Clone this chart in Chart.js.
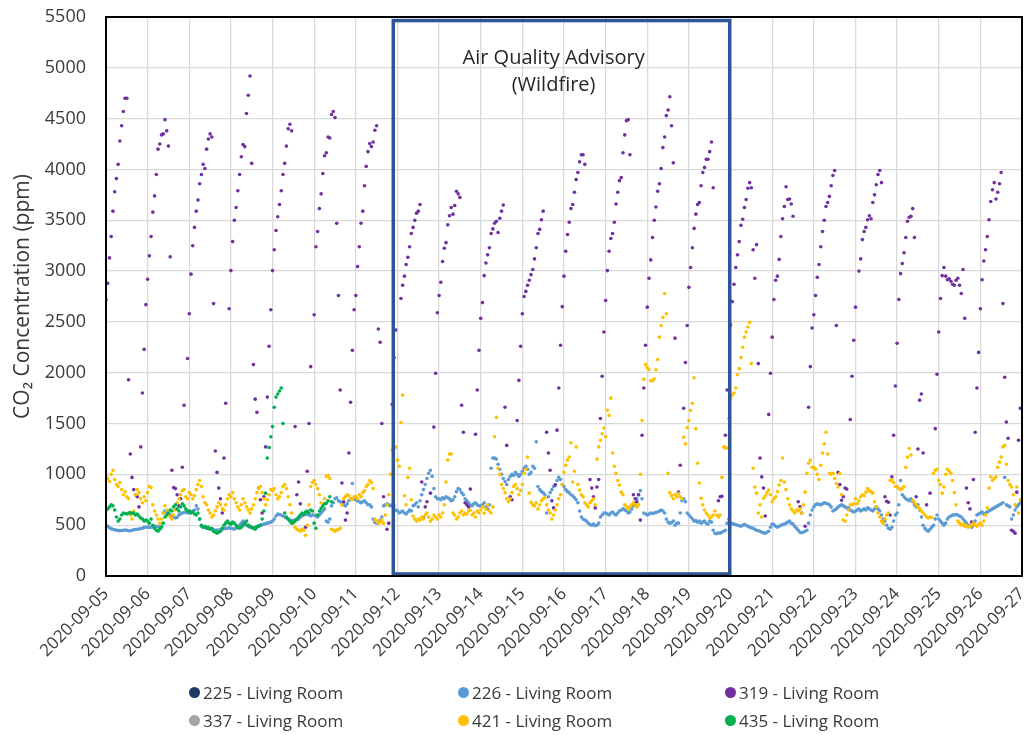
<!DOCTYPE html>
<html>
<head>
<meta charset="utf-8">
<script src="https://cdn.jsdelivr.net/npm/chart.js@4.4.1/dist/chart.umd.min.js"></script>
<style>
html, body { margin: 0; padding: 0; background: #fff; }
#wrap { position: relative; width: 1029px; height: 735px; }
#legend { position: absolute; left: 0; top: 0; width: 1029px; height: 735px; pointer-events: none;
	font-family: "Open Sans", sans-serif; font-size: 17px; color: #3a3a3a; }
.item { position: absolute; display: flex; align-items: center; height: 22px; white-space: nowrap; }
.dot { width: 11px; height: 11px; border-radius: 50%; margin-right: 3px; }
</style>
</head>
<body>
<div id="wrap">
	<canvas id="co2Chart" width="1029" height="735"></canvas>
	<div id="legend"></div>
</div>
<script>
// 날짜 눈금 (x = 2020-09-05 부터의 일 수)
const dateLabels = ['2020-09-05', '2020-09-06', '2020-09-07', '2020-09-08', '2020-09-09', '2020-09-10',
	'2020-09-11', '2020-09-12', '2020-09-13', '2020-09-14', '2020-09-15', '2020-09-16', '2020-09-17',
	'2020-09-18', '2020-09-19', '2020-09-20', '2020-09-21', '2020-09-22', '2020-09-23', '2020-09-24',
	'2020-09-25', '2020-09-26', '2020-09-27'];

// 시간별 측정값 (ppm), 한 줄 = 하루 24시간
const room225 = [];
const room337 = [];

const room226 = [
	495,490,475,465,460,455,450,450,445,448,450,452,450,445,445,450,455,458,460,462,465,470,478,480,
	482,478,480,485,488,490,485,482,490,620,640,630,610,600,590,580,570,575,600,610,620,625,630,620,
	625,630,640,650,690,660,560,490,485,480,478,470,465,460,455,450,452,450,455,460,465,468,470,475,
	470,465,462,470,480,500,520,540,520,500,490,480,475,470,480,490,495,500,505,510,515,520,525,530,
	540,560,590,610,605,600,590,580,570,560,550,540,545,550,555,560,580,590,600,605,610,600,590,600,
	600,590,580,600,620,640,660,540,530,560,690,720,760,770,740,730,720,700,690,710,740,760,910,760,
	750,740,730,720,730,740,720,700,700,680,560,530,520,530,550,580,690,700,710,700,690,700,690,650,
	640,620,630,640,620,610,630,650,640,690,700,720,680,740,800,850,900,960,1010,1040,980,860,780,760,
	760,750,770,760,780,770,760,740,750,780,830,860,850,820,800,760,740,720,700,690,710,720,700,690,
	690,700,720,680,660,700,1060,1160,1160,1150,1100,1050,1000,960,930,900,950,980,1000,990,1020,1000,980,1000,
	1030,1060,1080,1050,1000,1020,1080,1060,1320,880,850,830,820,800,620,780,820,850,880,900,940,970,950,900,
	880,850,830,820,800,790,770,750,720,640,580,560,550,540,520,505,500,510,495,500,520,580,600,620,
	620,610,600,620,630,610,600,620,640,650,660,650,640,620,630,660,690,720,760,800,840,760,620,610,
	600,610,620,615,620,625,630,640,650,640,620,560,530,520,525,540,500,520,520,620,740,760,730,620,
	600,580,560,540,545,530,540,520,530,540,520,510,540,530,450,420,415,425,420,430,440,450,520,560,
	520,515,510,505,500,495,490,500,505,500,490,480,475,470,460,450,445,440,430,425,420,430,440,480,
	510,505,490,480,490,500,505,510,520,530,540,520,510,490,470,450,430,425,430,440,450,520,600,650,
	680,700,710,705,700,710,720,715,710,700,680,640,650,660,680,690,700,690,680,670,670,650,640,630,
	640,650,660,640,650,660,650,670,660,650,640,660,680,660,640,600,560,540,500,470,460,480,540,600,
	620,700,940,800,780,760,750,740,760,730,700,680,700,650,580,500,470,450,440,460,480,500,560,600,
	560,540,520,500,520,560,580,590,600,600,605,600,590,580,560,540,520,500,490,480,500,540,600,610,
	620,630,610,620,630,640,650,660,670,680,690,700,710,720,970,700,690,680,560,600,650,680,700,720
];

const room319 = [
	2720,2880,3130,3340,3590,3780,3910,4050,4280,4430,4570,4700,4700,1930,1200,970,850,800,780,680,1270,1800,2230,2670,
	2920,3150,3340,3580,3740,3950,4200,4250,4340,4350,4490,4380,4230,3140,1040,870,860,800,690,760,1070,1680,null,2140,
	2580,2970,3250,3430,3590,3700,3860,3950,4050,4010,4200,4300,4350,4320,2680,1230,1020,865,760,620,1160,1700,null,2630,
	3005,3290,3500,3625,3790,3950,4125,4245,4225,4550,4730,4920,4060,2080,1740,1610,865,750,620,780,1270,1760,2260,2620,
	3005,3210,3400,3535,3655,3790,3950,4060,4230,4400,4445,4380,null,1470,800,925,710,null,null,480,1030,1500,2060,null,
	2570,3240,3390,3615,3760,3960,4135,4165,4320,4310,4540,4570,4510,3470,2760,1830,915,730,550,620,1210,1710,2220,2620,
	2760,3045,3240,3470,3590,3840,4030,4175,4255,4225,4270,4385,4430,2430,2300,1500,780,null,460,520,null,1690,2150,2420,
	null,null,2730,2860,2950,3065,3135,3240,3370,3430,3500,3570,3590,3655,925,570,680,730,null,815,null,1465,1995,2590,
	2760,2890,3095,3225,3280,3455,3545,3625,3560,3645,3785,3760,3725,1680,1415,720,700,680,855,null,null,1395,1830,2220,
	2535,2690,2955,3080,3160,3230,3370,3415,3470,3490,3380,3520,3590,3650,1660,1285,null,780,750,null,null,1530,1925,2260,
	2580,2750,2800,2860,2910,2965,3015,3120,3230,3370,3410,3505,3590,null,1415,1210,1040,740,670,895,1435,1850,2270,2650,
	2950,3195,3360,3480,3615,3655,3775,3900,3970,4075,4145,4145,4050,null,null,950,865,780,670,875,950,1550,1965,2400,
	2710,3005,3195,3320,3370,3480,3660,3775,3890,3920,4165,4340,4480,4490,4145,null,800,760,730,800,550,1385,1850,2270,
	2645,2930,3110,3330,3500,3630,3785,3860,4010,4215,4320,4530,4585,4715,4430,4065,2340,null,825,1090,null,1650,2100,2465,
	2840,3035,3230,3420,3560,3655,3675,3840,3970,4020,4100,4100,4175,4270,3820,null,null,740,780,785,null,1385,1830,null,
	2470,2700,2870,3035,3160,3290,3450,3510,3625,3705,3815,3870,3820,3210,2930,3260,2090,1160,975,865,590,null,1590,1995,
	2350,2720,2910,2950,3115,3340,3515,3635,3830,3705,3710,3660,3540,null,null,730,680,620,null,490,null,1660,2060,2440,
	2570,2760,2940,3065,3240,3390,3500,3635,3675,3735,3840,3940,3990,2465,1020,900,745,780,865,855,null,1540,1965,2320,
	2645,null,3000,3120,3310,3390,3430,3505,3545,3515,3675,3750,3850,3950,3990,3870,null,780,735,725,600,975,1385,1870,
	2290,2720,2975,3075,3180,3330,3490,3530,3540,3615,3330,780,1250,1730,1790,1210,null,700,null,815,null,null,1450,1985,
	2400,2730,2955,3035,2950,2915,2925,2900,2870,2860,2910,2930,2860,2780,3015,2535,865,720,660,530,950,1415,1850,2200,
	2630,2915,3100,3210,3340,3505,3685,3800,3870,3710,3775,3860,3970,2680,1955,1515,1355,null,450,440,420,825,1335,1650
];

const room421 = [
	990,960,930,1000,1040,950,900,880,920,850,800,830,780,760,600,560,640,800,850,820,760,720,780,740,
	820,880,870,700,640,600,560,520,560,620,690,650,600,580,560,600,650,720,760,800,840,850,780,760,
	820,800,760,790,850,900,940,880,780,720,700,650,620,580,600,640,680,720,700,660,650,700,760,800,
	780,820,760,720,680,650,700,760,720,680,650,620,660,700,760,820,860,880,820,760,700,750,800,850,
	840,860,800,760,780,820,880,900,860,780,700,620,520,480,460,450,440,460,450,400,500,700,880,920,
	940,900,860,800,720,680,760,980,990,960,460,450,440,450,460,470,700,760,780,800,790,760,750,780,
	780,760,800,780,820,840,880,900,940,920,860,560,540,520,530,550,520,600,700,800,1000,1240,1250,1270,
	1140,1080,1510,1780,790,700,970,1060,750,590,560,540,560,550,580,560,600,620,580,540,560,600,580,560,
	600,580,620,700,925,1140,1200,1200,620,600,560,580,620,640,600,620,610,640,650,600,620,580,640,620,
	650,680,620,660,700,640,620,680,1370,1560,1060,1000,900,860,820,760,730,760,820,880,900,860,800,840,
	900,1010,1050,1170,815,725,700,690,720,660,700,740,760,770,700,650,620,560,600,650,700,760,800,900,
	1020,1090,1140,1170,1310,925,1030,1270,900,845,800,780,720,700,680,720,740,760,700,1150,1270,1335,1400,1455,
	1370,1630,1580,1750,1210,1080,1010,940,895,825,800,700,680,660,680,700,720,700,680,700,1000,1530,1935,2080,
	2050,2030,1920,1920,1940,2030,2130,2350,2465,2545,2780,2580,1010,820,790,760,800,780,810,780,760,1365,1300,1460,
	1530,1630,1700,1950,1450,1110,915,765,700,650,620,600,570,580,600,640,600,580,600,970,1270,1260,1260,1550,
	1750,1780,1800,1850,1980,2040,2150,2250,2350,2400,2450,2495,2090,1060,875,815,620,700,580,765,790,820,845,800,
	730,760,780,830,895,940,1160,925,850,760,700,660,640,620,650,640,660,620,700,825,1010,1110,1140,1070,
	1070,1050,1000,950,1090,1210,1300,1415,1200,1010,1000,1010,960,910,875,1010,800,550,540,600,650,700,700,710,
	760,710,740,780,800,790,825,860,840,830,815,730,680,620,580,540,520,560,600,620,940,950,920,880,
	880,860,850,860,880,1070,1170,1255,1190,745,720,700,680,660,640,620,600,580,570,580,575,1010,1040,1050,
	940,900,815,875,1000,1050,1030,1010,940,820,700,540,520,500,510,490,500,480,490,500,520,500,490,510,
	520,500,540,600,670,865,975,940,960,975,1070,1120,1170,1270,1285,1100,940,900,875,800,700,875,620,750
];

const room435 = [
	650,660,680,700,690,650,580,540,560,600,620,615,610,620,625,615,620,600,610,590,570,560,540,550,
	540,520,560,500,470,450,440,460,480,520,580,600,620,650,640,680,700,660,640,680,710,690,660,640,
	640,620,630,610,600,620,560,500,480,490,470,480,460,470,440,430,420,430,440,470,500,520,540,520,
	510,530,520,500,480,470,480,500,520,540,500,490,480,470,460,480,490,500,560,640,815,1160,1265,1370,
	1470,1660,1760,1790,1820,1850,1500,620,580,560,540,520,530,540,560,580,600,620,610,630,640,620,650,640,
	520,470,600,640,665,690,710,715,740,780,730
];

// 대기질 경보 구간 (일 수, ppm)
const advisoryDays = [6.9, 14.98];
const advisoryPpm = [20, 5465];
const advisoryText = ['Air Quality Advisory', '(Wildfire)'];
const advisoryTextAt = [10.75, 5090, 4825];

const series = [
	{ label: '225 - Living Room', values: room225, color: '#1F3864' },
	{ label: '226 - Living Room', values: room226, color: '#5B9BD5' },
	{ label: '319 - Living Room', values: room319, color: '#7030A0' },
	{ label: '337 - Living Room', values: room337, color: '#A5A5A5' },
	{ label: '421 - Living Room', values: room421, color: '#FFC000' },
	{ label: '435 - Living Room', values: room435, color: '#00B050' }
];

Chart.defaults.font.family = '"Open Sans", sans-serif';
Chart.defaults.color = '#3a3a3a';

const datasets = series.map((s, idx) => ({
	label: s.label,
	data: s.values.map((v, i) => ({ x: i / 24, y: v })),
	backgroundColor: s.color,
	borderWidth: 0,
	pointRadius: 1.8,
	pointHoverRadius: 0,
	order: series.length - idx
}));

// 경보 구간 상자와 그래프 테두리
const boxPlugin = {
	id: 'boxPlugin',
	afterDatasetsDraw(chart) {
		const { ctx, chartArea: a, scales: { x, y } } = chart;
		ctx.save();
		const x0 = x.getPixelForValue(advisoryDays[0]);
		const x1 = x.getPixelForValue(advisoryDays[1]);
		const y0 = y.getPixelForValue(advisoryPpm[1]);
		const y1 = y.getPixelForValue(advisoryPpm[0]);
		ctx.strokeStyle = '#2F5597';
		ctx.lineWidth = 3.5;
		ctx.strokeRect(x0, y0, x1 - x0, y1 - y0);

		ctx.fillStyle = '#262626';
		ctx.font = '20px "Open Sans"';
		ctx.textAlign = 'center';
		ctx.textBaseline = 'middle';
		const tx = x.getPixelForValue(advisoryTextAt[0]);
		ctx.fillText(advisoryText[0], tx, y.getPixelForValue(advisoryTextAt[1]));
		ctx.fillText(advisoryText[1], tx, y.getPixelForValue(advisoryTextAt[2]));

		ctx.strokeStyle = '#000';
		ctx.lineWidth = 2;
		ctx.strokeRect(a.left, a.top, a.right - a.left, a.bottom - a.top);
		ctx.restore();
	}
};

const ctx = document.getElementById('co2Chart').getContext('2d');
const co2Chart = new Chart(ctx, {
	type: 'scatter',
	data: { datasets: datasets },
	options: {
		responsive: false,
		animation: false,
		events: [],
		layout: { padding: { left: 0, top: 17, right: 7, bottom: 59 } },
		plugins: {
			legend: { display: false },
			tooltip: { enabled: false }
		},
		scales: {
			x: {
				type: 'linear',
				min: 0,
				max: 22,
				afterFit(scale) {
					scale.height = 100;
					scale.paddingLeft = 0;
					scale.paddingRight = 0;
				},
				grid: { color: '#d9d9d9', lineWidth: 1.3, drawTicks: false },
				border: { display: false },
				ticks: {
					stepSize: 1,
					autoSkip: false,
					minRotation: 45,
					maxRotation: 45,
					padding: 8,
					font: { size: 17 },
					callback: value => dateLabels[value]
				}
			},
			y: {
				min: 0,
				max: 5500,
				afterFit(scale) {
					scale.width = 106;
					scale.paddingTop = 0;
					scale.paddingBottom = 0;
				},
				grid: { color: '#d9d9d9', lineWidth: 1.3, drawTicks: false },
				border: { display: false },
				ticks: { stepSize: 500, padding: 20, font: { size: 18 }, callback: value => String(value) },
				title: {
					display: true,
					text: 'CO₂ Concentration (ppm)',
					font: { size: 21 },
					padding: { top: 10, bottom: 0 }
				}
			}
		}
	},
	plugins: [boxPlugin]
});

// 범례 (3열 2행)
const legendBox = document.getElementById('legend');
series.forEach((s, i) => {
	const item = document.createElement('div');
	item.className = 'item';
	item.style.left = [189, 458, 725][i % 3] + 'px';
	item.style.top = [681, 709][Math.floor(i / 3)] + 'px';
	item.innerHTML = '<span class="dot" style="background:' + s.color + '"></span>' + s.label;
	legendBox.appendChild(item);
});
</script>
</body>
</html>
